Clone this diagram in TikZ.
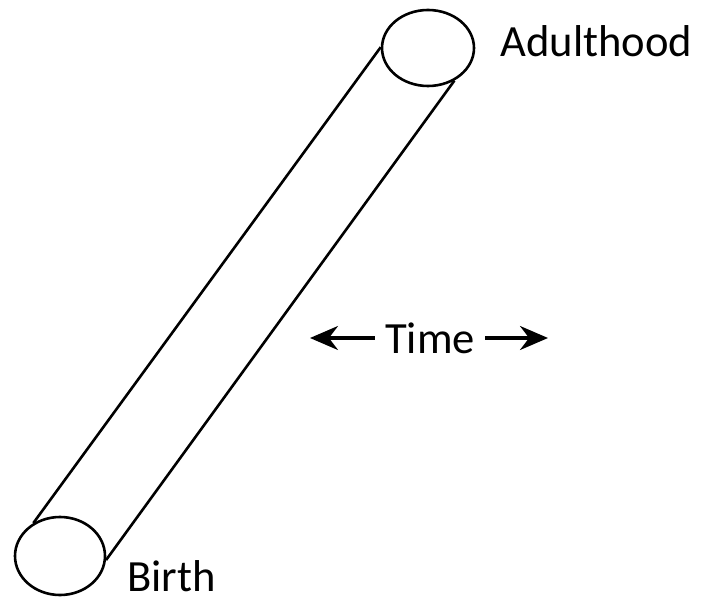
\documentclass[tikz,border=0pt]{standalone}
\usepackage{fontspec}
\setmainfont{Carlito}
\usetikzlibrary{%
	arrows.meta,%
	shapes.geometric,%
	positioning,%
}
\tikzset{
	>={Stealth[length=14bp, width=12bp]},%
	tubeend/.style={%
			draw,%
			ellipse,%
			line width=1.3bp,%
			inner sep=0,%
			minimum width=46bp,%
			minimum height=38bp},%
	tubeside/.style={%
			line width=1.3bp},%
	stagelabel/.style={%
			inner sep=0,%
			font=\fontsize{22.3bp}{27bp}\selectfont},%
	timearrow/.style={%
			->,%
			line width=1.6bp},%
}

\begin{document}
\begin{tikzpicture}[x=0.5bp, y=-0.5bp]%
	\useasboundingbox (0,0) rectangle (702,597);

	\node[tubeend] (adultend) at (428,48) {};
	\node[tubeend, minimum width=45bp, minimum height=39bp] (birthend) at (60,556) {};

	\node[stagelabel, anchor=base west] (adult) at (500,57) {Adulthood};
	\node[stagelabel, anchor=base west] (birth) at (127,591) {Birth};

	\node[stagelabel, inner xsep=5bp] (time) at (430,338) {Time};
	\coordinate (past) at (310,338);
	\coordinate (future) at (548,338);

	\draw[tubeside] (birthend.129) -- (adultend.179);
	\draw[tubeside] (birthend.-5) -- (adultend.-51);
	\draw[timearrow] (time) -- (past);
	\draw[timearrow] (time) -- (future);
\end{tikzpicture}
\end{document}
